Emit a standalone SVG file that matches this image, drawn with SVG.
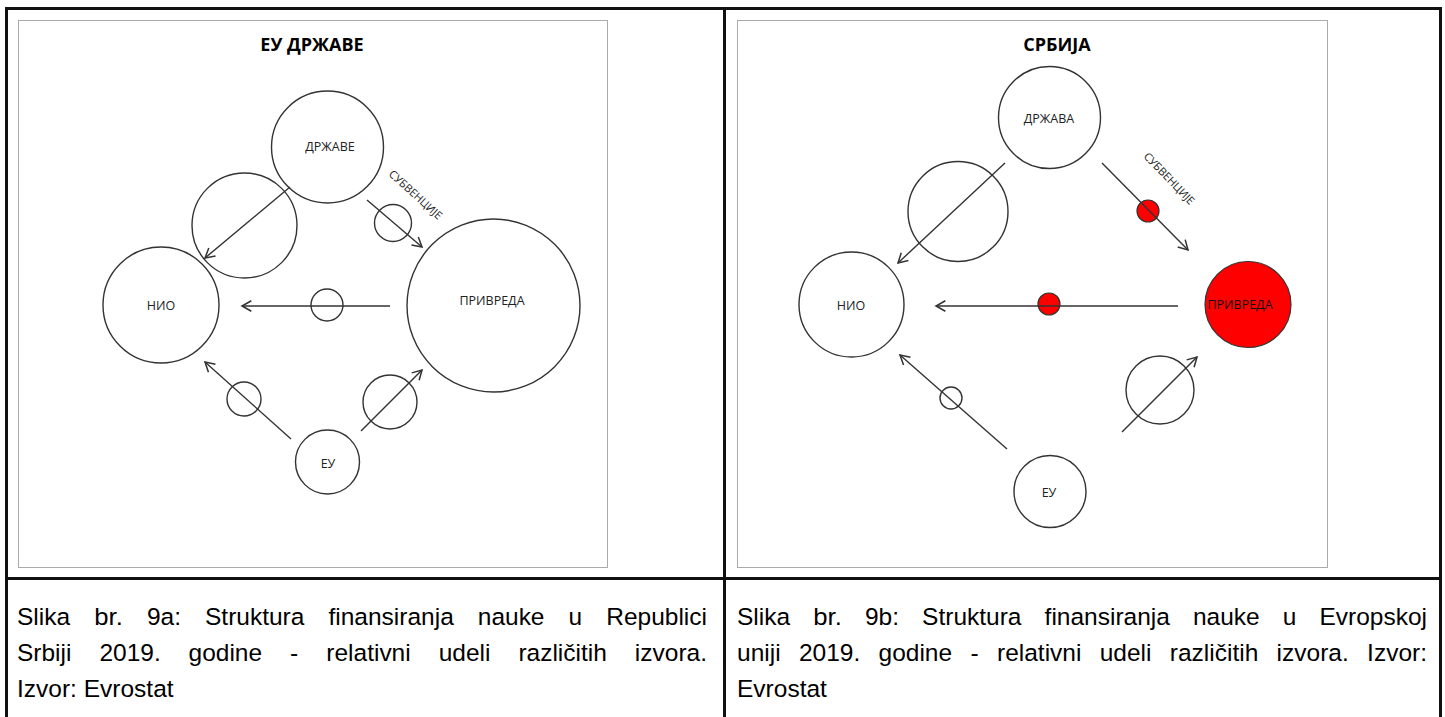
<svg xmlns="http://www.w3.org/2000/svg" width="1445" height="717" viewBox="0 0 1445 717">
<defs>
<marker id="ah" markerUnits="userSpaceOnUse" markerWidth="14" markerHeight="14" viewBox="-10 -6 12 12" refX="0" refY="0" orient="auto">
<path d="M-8,-4.5 L0,0 L-8,4.5" fill="none" stroke="#333" stroke-width="1.3"/>
</marker>
</defs>
<style>
.frame{fill:#fff;stroke:#aaa;stroke-width:1}
.tb{stroke:#111;stroke-width:3;fill:none}
.c{fill:none;stroke:#333;stroke-width:1.4}
.red{fill:#ff0000;stroke:#333;stroke-width:1.2}
.ar{stroke:#333;stroke-width:1.4;fill:none;marker-end:url(#ah)}
.title{font-family:"Open Sans","Noto Sans",sans-serif;font-weight:bold;font-size:18px;fill:#000;text-anchor:middle}
.lbl{font-family:"Open Sans","Noto Sans",sans-serif;font-size:12.5px;fill:#222;text-anchor:middle;dominant-baseline:central}
.sub{font-family:"Open Sans","Noto Sans",sans-serif;font-size:11px;fill:#222}
.cap text{font-family:"Liberation Sans",Arial,sans-serif;font-size:24.5px;fill:#000}
</style>
<rect x="0" y="0" width="1445" height="717" fill="#fff"/>
<g id="table">
<line class="tb" x1="5" y1="8.5" x2="1442" y2="8.5"/>
<line class="tb" x1="6.5" y1="7" x2="6.5" y2="717"/>
<line class="tb" x1="724.5" y1="7" x2="724.5" y2="717"/>
<line class="tb" x1="1440.5" y1="7" x2="1440.5" y2="717"/>
<line class="tb" x1="5" y1="578.5" x2="1442" y2="578.5"/>
</g>
<g id="panel-left">
<rect class="frame" x="18.5" y="20.5" width="589" height="547"/>
<text class="title" x="312" y="51">ЕУ ДРЖАВЕ</text>
</g>
<g id="panel-right">
<rect class="frame" x="737.5" y="20.5" width="590" height="547"/>
<text class="title" x="1057" y="51">СРБИЈА</text>
</g>
<g id="connectors">
<circle class="c" cx="244.5" cy="225.5" r="52.5"/>
<line class="ar" x1="290" y1="187" x2="205" y2="258"/>
<circle class="c" cx="327" cy="305" r="16"/>
<line class="ar" x1="390" y1="306" x2="242" y2="306"/>
<circle class="c" cx="393" cy="223" r="18.5"/>
<line class="ar" x1="367" y1="200" x2="422" y2="247"/>
<text class="sub" transform="translate(388,175) rotate(42)">СУБВЕНЦИЈЕ</text>
<circle class="c" cx="244" cy="399" r="17"/>
<line class="ar" x1="291" y1="439" x2="205" y2="362"/>
<circle class="c" cx="390" cy="402" r="27"/>
<line class="ar" x1="361" y1="431" x2="422" y2="370"/>
<circle class="c" cx="958" cy="211.5" r="50"/>
<line class="ar" x1="1005" y1="163" x2="898" y2="263"/>
<circle class="red" cx="1049" cy="304" r="11"/>
<line class="ar" x1="1178" y1="306" x2="936" y2="306"/>
<circle class="red" cx="1148" cy="211" r="11"/>
<line class="ar" x1="1102" y1="163" x2="1188" y2="250"/>
<text class="sub" transform="translate(1143,157) rotate(46)">СУБВЕНЦИЈЕ</text>
<circle class="c" cx="1160" cy="390" r="34"/>
<line class="ar" x1="1122" y1="432" x2="1197" y2="357"/>
<circle class="c" cx="951" cy="398" r="11"/>
<line class="ar" x1="1007" y1="449" x2="900" y2="355"/>
</g>
<g id="node-drzave">
<circle class="c" cx="327.5" cy="147" r="56"/>
<text class="lbl" x="330" y="146">ДРЖАВЕ</text>
</g>
<g id="node-nio-left">
<circle class="c" cx="161" cy="305" r="58"/>
<text class="lbl" x="161" y="305">НИО</text>
</g>
<g id="node-privreda-left">
<circle class="c" cx="493.5" cy="305.5" r="86.5"/>
<text class="lbl" x="492" y="300">ПРИВРЕДА</text>
</g>
<g id="node-eu-left">
<circle class="c" cx="327.5" cy="462" r="32"/>
<text class="lbl" x="328" y="463">ЕУ</text>
</g>
<g id="node-drzava-right">
<circle class="c" cx="1049.5" cy="117.5" r="51"/>
<text class="lbl" x="1049" y="118">ДРЖАВА</text>
</g>
<g id="node-nio-right">
<circle class="c" cx="851.5" cy="304.5" r="52.5"/>
<text class="lbl" x="851" y="305">НИО</text>
</g>
<g id="node-privreda-right">
<circle class="red" cx="1248" cy="304.5" r="43"/>
<text class="lbl" x="1240" y="304" style="fill:#111">ПРИВРЕДА</text>
</g>
<g id="node-eu-right">
<circle class="c" cx="1050" cy="491.5" r="36"/>
<text class="lbl" x="1049" y="492">ЕУ</text>
</g>
<g id="caption-left" class="cap">
<text x="17" y="625" textLength="53.1" lengthAdjust="spacingAndGlyphs">Slika</text>
<text x="94.2" y="625" textLength="28.6" lengthAdjust="spacingAndGlyphs">br.</text>
<text x="146.9" y="625" textLength="34.1" lengthAdjust="spacingAndGlyphs">9a:</text>
<text x="205" y="625" textLength="99.4" lengthAdjust="spacingAndGlyphs">Struktura</text>
<text x="328.5" y="625" textLength="125.3" lengthAdjust="spacingAndGlyphs">finansiranja</text>
<text x="477.8" y="625" textLength="66.7" lengthAdjust="spacingAndGlyphs">nauke</text>
<text x="568.6" y="625" textLength="13.6" lengthAdjust="spacingAndGlyphs">u</text>
<text x="606.3" y="625" textLength="100.7" lengthAdjust="spacingAndGlyphs">Republici</text>
<text x="17" y="661" textLength="54.4" lengthAdjust="spacingAndGlyphs">Srbiji</text>
<text x="99.4" y="661" textLength="61.3" lengthAdjust="spacingAndGlyphs">2019.</text>
<text x="188.6" y="661" textLength="73.5" lengthAdjust="spacingAndGlyphs">godine</text>
<text x="290.1" y="661" textLength="8.2" lengthAdjust="spacingAndGlyphs">-</text>
<text x="326.3" y="661" textLength="84.4" lengthAdjust="spacingAndGlyphs">relativni</text>
<text x="438.7" y="661" textLength="51.7" lengthAdjust="spacingAndGlyphs">udeli</text>
<text x="518.4" y="661" textLength="88.5" lengthAdjust="spacingAndGlyphs">različitih</text>
<text x="634.8" y="661" textLength="72.2" lengthAdjust="spacingAndGlyphs">izvora.</text>
<text x="17" y="697">Izvor: Evrostat</text>
</g>
<g id="caption-right" class="cap">
<text x="737" y="625" textLength="53.1" lengthAdjust="spacingAndGlyphs">Slika</text>
<text x="813.2" y="625" textLength="28.6" lengthAdjust="spacingAndGlyphs">br.</text>
<text x="864.9" y="625" textLength="34.1" lengthAdjust="spacingAndGlyphs">9b:</text>
<text x="922.1" y="625" textLength="99.4" lengthAdjust="spacingAndGlyphs">Struktura</text>
<text x="1044.6" y="625" textLength="125.3" lengthAdjust="spacingAndGlyphs">finansiranja</text>
<text x="1193" y="625" textLength="66.7" lengthAdjust="spacingAndGlyphs">nauke</text>
<text x="1282.8" y="625" textLength="13.6" lengthAdjust="spacingAndGlyphs">u</text>
<text x="1319.5" y="625" textLength="107.5" lengthAdjust="spacingAndGlyphs">Evropskoj</text>
<text x="737" y="661" textLength="43.6" lengthAdjust="spacingAndGlyphs">uniji</text>
<text x="798.9" y="661" textLength="61.3" lengthAdjust="spacingAndGlyphs">2019.</text>
<text x="878.6" y="661" textLength="73.5" lengthAdjust="spacingAndGlyphs">godine</text>
<text x="970.4" y="661" textLength="8.2" lengthAdjust="spacingAndGlyphs">-</text>
<text x="997" y="661" textLength="84.4" lengthAdjust="spacingAndGlyphs">relativni</text>
<text x="1099.7" y="661" textLength="51.7" lengthAdjust="spacingAndGlyphs">udeli</text>
<text x="1169.8" y="661" textLength="88.5" lengthAdjust="spacingAndGlyphs">različitih</text>
<text x="1276.6" y="661" textLength="72.2" lengthAdjust="spacingAndGlyphs">izvora.</text>
<text x="1367.1" y="661" textLength="59.9" lengthAdjust="spacingAndGlyphs">Izvor:</text>
<text x="737" y="697">Evrostat</text>
</g>
</svg>
